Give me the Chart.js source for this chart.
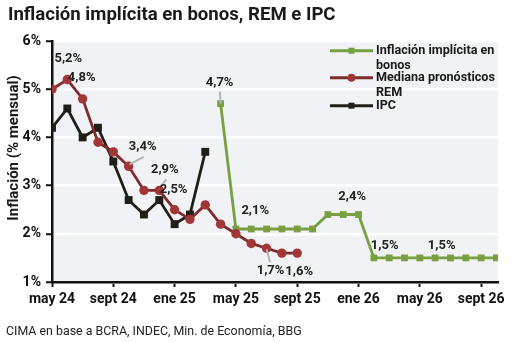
<!DOCTYPE html>
<html><head><meta charset="utf-8">
<script src="https://cdn.jsdelivr.net/npm/chart.js@4"></script>
<style>
html,body{margin:0;padding:0;background:#fff;}
#wrap{position:relative;width:512px;height:342px;overflow:hidden;}
#c{position:absolute;left:0;top:0;}
#title{position:absolute;left:8px;top:2px;font:bold 18.6px Roboto;line-height:24px;color:#1a1a1a;white-space:nowrap;}
#foot{position:absolute;left:6px;top:323px;font:12.4px Roboto;line-height:16px;color:#222;white-space:nowrap;}
</style></head>
<body>
<div id="wrap">
<canvas id="c" width="512" height="342"></canvas>
<div id="title">Inflación implícita en bonos, REM e IPC</div>
<div id="foot">CIMA en base a BCRA, INDEC, Min. de Economía, BBG</div>
</div>
<script>
// ---- data ----
const months = ['may 24','jun 24','jul 24','ago 24','sept 24','oct 24','nov 24','dic 24',
  'ene 25','feb 25','mar 25','abr 25','may 25','jun 25','jul 25','ago 25','sept 25','oct 25','nov 25','dic 25',
  'ene 26','feb 26','mar 26','abr 26','may 26','jun 26','jul 26','ago 26','sept 26','oct 26'];
const tickMonths = ['may 24','sept 24','ene 25','may 25','sept 25','ene 26','may 26','sept 26'];
const yTicks = [1,2,3,4,5,6];
const seriesNames = ['Inflación implícita en bonos','Mediana pronósticos REM','IPC'];
const bonos = [null,null,null,null,null,null,null,null,null,null,null,
  4.7,2.1,2.1,2.1,2.1,2.1,2.1,2.4,2.4,2.4,1.5,1.5,1.5,1.5,1.5,1.5,1.5,1.5,1.5];
const rem = [5.0,5.2,4.8,3.9,3.7,3.4,2.9,2.9,2.5,2.3,2.6,2.2,2.0,1.8,1.7,1.6,1.6,
  null,null,null,null,null,null,null,null,null,null,null,null,null];
const ipc = [4.2,4.6,4.0,4.2,3.5,2.7,2.4,2.7,2.2,2.4,3.7,
  null,null,null,null,null,null,null,null,null,null,null,null,null,null,null,null,null,null,null];
// points that carry a value label: [dataset index, month index]
const labeledPoints = [[1,1],[1,2],[1,5],[1,7],[1,8],[1,14],[1,16],[0,11],[0,13],[0,19],[0,22],[0,25]];

// ---- label placement (styling) ----
const labelStyle = {
  '1-1':{dx:1,dy:-21}, '1-2':{dx:-1,dy:-21},
  '1-5':{dx:14,dy:-20,lead:[1,-2,15,-9.5]},
  '1-7':{dx:5.5,dy:-21,lead:[1.5,-4,7,-11]},
  '1-8':{dx:-1,dy:-20},
  '1-14':{dx:4,dy:22,lead:[0,1,3.5,14]},
  '1-16':{dx:2,dy:18.5},
  '0-11':{dx:-1,dy:-21,lead:[0,0,-0.7,-12]},
  '0-13':{dx:4,dy:-18}, '0-19':{dx:9,dy:-18},
  '0-22':{dx:-4.5,dy:-12}, '0-25':{dx:6.5,dy:-12}
};
const fmt = v => v.toFixed(1).replace('.', ',') + '%';
const toXY = arr => arr.map((v,i)=>({x:i,y:v}));

const GREEN='#78a040', RED_LINE='#7f2b2b', RED_PT='#a33636', BLACK='#201f17';
const FONT='Roboto';

const bgPlugin = {
  id:'bg',
  beforeDraw(chart){
    const {ctx, chartArea:a} = chart;
    ctx.save(); ctx.fillStyle='#f1f2f5';
    ctx.fillRect(a.left, a.top, a.right-a.left, a.bottom-a.top);
    ctx.restore();
  }
};

const labelPlugin = {
  id:'vlabels',
  afterDatasetsDraw(chart){
    const ctx = chart.ctx;
    ctx.save();
    labeledPoints.forEach(([d,i])=>{
      const el = chart.getDatasetMeta(d).data[i];
      const st = labelStyle[d+'-'+i];
      const v = chart.data.datasets[d].data[i].y;
      if (st.lead){
        ctx.strokeStyle='#b4b4b4'; ctx.lineWidth=2;
        ctx.beginPath();
        ctx.moveTo(el.x+st.lead[0], el.y+st.lead[1]);
        ctx.lineTo(el.x+st.lead[2], el.y+st.lead[3]);
        ctx.stroke();
      }
      ctx.fillStyle='#222';
      ctx.font='bold 13px '+FONT;
      ctx.textAlign='center'; ctx.textBaseline='middle';
      ctx.fillText(fmt(v), el.x+st.dx, el.y+st.dy);
    });
    ctx.restore();
  }
};

const legendPlugin = {
  id:'customLegend',
  afterDraw(chart){
    const ctx = chart.ctx;
    const rows = [
      {ds:0, y:50.7, lines:['Inflación implícita en','bonos'], shape:'rect', size:6, pc:GREEN, lc:GREEN},
      {ds:1, y:77.7, lines:['Mediana pronósticos','REM'], shape:'circle', size:4, pc:RED_PT, lc:RED_LINE},
      {ds:2, y:105.7, lines:['IPC'], shape:'rect', size:6, pc:BLACK, lc:BLACK}
    ];
    ctx.save();
    rows.forEach(r=>{
      ctx.strokeStyle=r.lc; ctx.lineWidth=3;
      ctx.beginPath(); ctx.moveTo(330,r.y); ctx.lineTo(373,r.y); ctx.stroke();
      ctx.fillStyle=r.pc;
      if(r.shape==='rect'){ ctx.fillRect(351.5-r.size/2, r.y-r.size/2, r.size, r.size); }
      else { ctx.beginPath(); ctx.arc(351.5,r.y,r.size,0,Math.PI*2); ctx.fill(); }
      ctx.fillStyle='#1a1a1a'; ctx.font='bold 12.6px '+FONT;
      ctx.textAlign='left'; ctx.textBaseline='middle';
      r.lines.forEach((t,k)=>ctx.fillText(t, 376, r.y+k*15));
    });
    ctx.restore();
  }
};

const yTitlePlugin = {
  id:'yTitle',
  afterDraw(chart){
    const ctx = chart.ctx;
    ctx.save();
    ctx.translate(14, 148);
    ctx.rotate(-Math.PI/2);
    ctx.font='bold 15px '+FONT; ctx.fillStyle='#1a1a1a';
    ctx.textAlign='center'; ctx.textBaseline='middle';
    ctx.fillText('Inflación (% mensual)', 0, 0);
    ctx.restore();
  }
};

new Chart(document.getElementById('c'), {
  type:'line',
  data:{
    datasets:[
      {label:seriesNames[0], data:toXY(bonos), borderColor:GREEN, backgroundColor:GREEN,
       borderWidth:2.8, pointStyle:'rect', pointRadius:4.8, pointHoverRadius:4.8, pointBorderWidth:0, order:2},
      {label:seriesNames[1], data:toXY(rem), borderColor:RED_LINE, backgroundColor:RED_PT,
       borderWidth:2.8, pointStyle:'circle', pointRadius:4.7, pointHoverRadius:4.7, pointBorderWidth:0, order:0},
      {label:seriesNames[2], data:toXY(ipc), borderColor:BLACK, backgroundColor:BLACK,
       borderWidth:2.8, pointStyle:'rect', pointRadius:5.6, pointHoverRadius:5.6, pointBorderWidth:0, order:1}
    ]
  },
  options:{
    responsive:false, animation:false,
    layout:{padding:{top:41,right:14,bottom:30,left:0}},
    plugins:{legend:{display:false}, tooltip:{enabled:false}},
    scales:{
      x:{type:'linear', min:0, max:29.1,
        afterBuildTicks: s => { s.ticks = tickMonths.map(m=>({value:months.indexOf(m)})); },
        afterFit: s => { s.height = 30; },
        ticks:{callback:v=>months[v], font:{family:FONT,weight:'bold',size:14}, color:'#111', padding:4, maxRotation:0, autoSkip:false},
        grid:{drawOnChartArea:false, drawTicks:true, tickLength:5, tickColor:'#111', tickWidth:2},
        border:{display:true, color:'#111', width:2.5}
      },
      y:{min:1, max:6,
        afterBuildTicks: s => { s.ticks = yTicks.map(v=>({value:v})); },
        afterFit: s => { s.width = 52; },
        ticks:{callback:v=>v+'%', font:{family:FONT,weight:'bold',size:14}, color:'#111', padding:5},
        grid:{color:'#ffffff', lineWidth:2.5, tickColor:'#111', tickLength:6, tickWidth:2},
        border:{display:true, color:'#111', width:2.5}
      }
    }
  },
  plugins:[bgPlugin, labelPlugin, legendPlugin, yTitlePlugin]
});
</script>
</body></html>
